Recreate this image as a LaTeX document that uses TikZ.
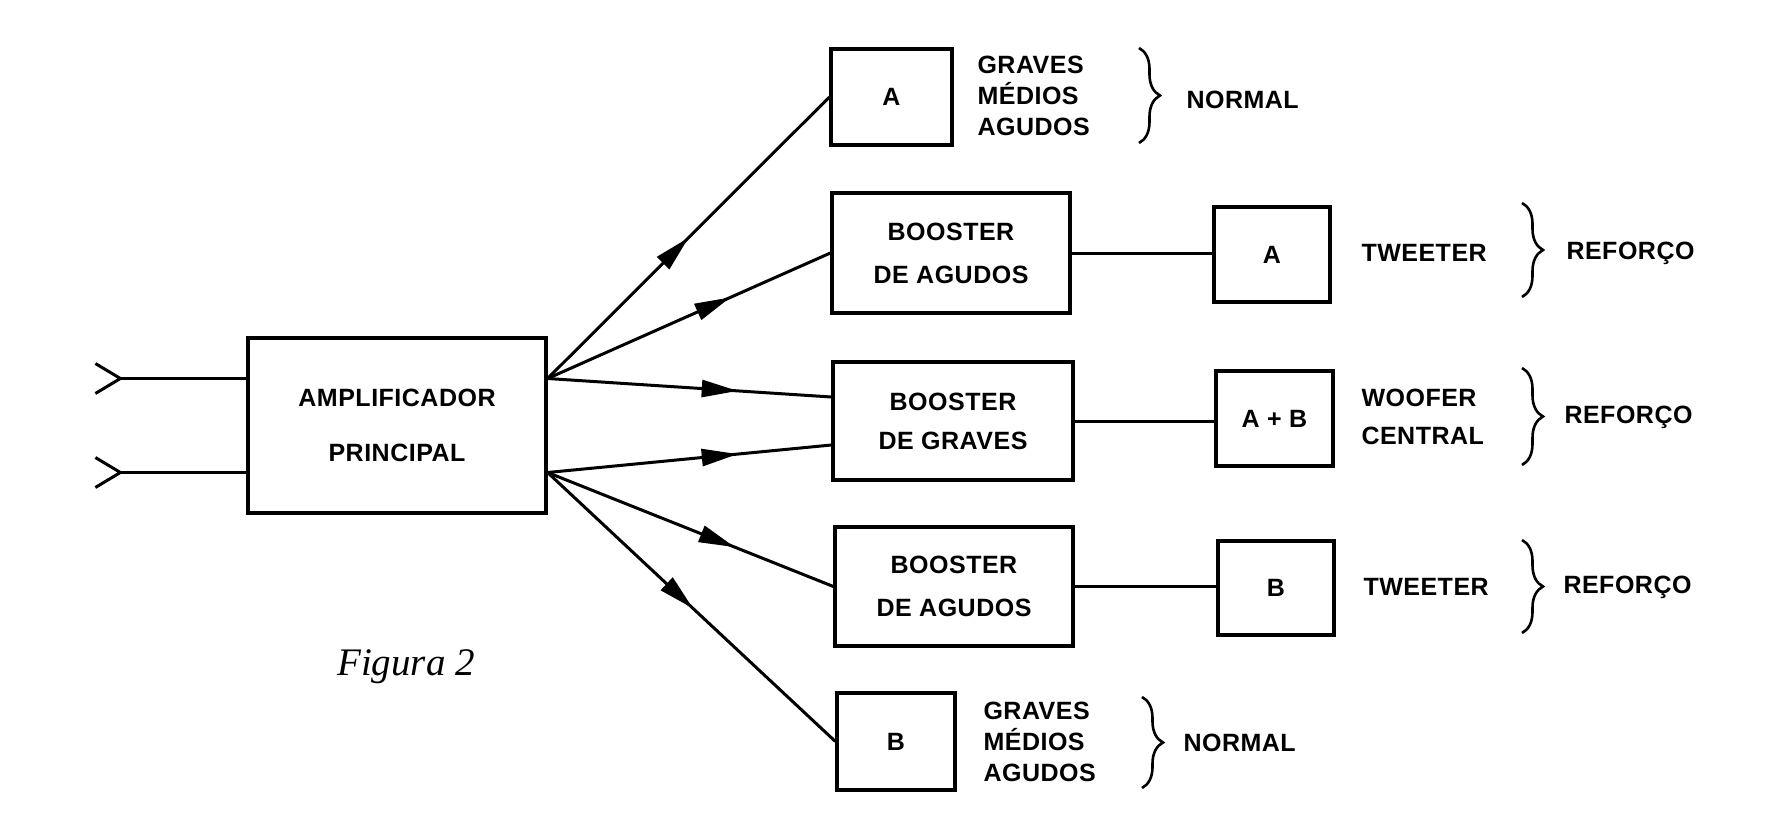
\documentclass[tikz,border=0pt]{standalone}
\usepackage{fontspec}
\setmainfont{Liberation Sans}
\newfontfamily\lettering[LetterSpace=2]{Liberation Sans}
\newfontfamily\legendfont{Liberation Serif}
\usepackage{tikz}
\usetikzlibrary{arrows.meta,decorations.markings,decorations.pathreplacing}

\begin{document}
\begin{tikzpicture}[
  x=1pt, y=-1pt,
  font=\lettering\bfseries\fontsize{25}{28}\selectfont,
  line width=3pt,
  unit/.style={draw, line width=3.2pt, inner sep=0pt, align=center},
  stage/.style={unit, minimum width=238pt, minimum height=119pt},
  spk/.style={unit, minimum width=117pt, minimum height=95pt},
  tag/.style={anchor=west, align=left, inner sep=0pt},
  feed/.style={postaction={decorate}, decoration={markings,
      mark=at position #1 with {\arrow{Triangle[length=36pt,width=17pt]}}}},
  bracket/.style={decorate, decoration={brace, amplitude=21pt}, line width=2.6pt}]

\useasboundingbox (0,0) rectangle (1792,840);

%% ---- amplificador e entradas ----
\node[unit, minimum width=298pt, minimum height=175pt] (amp) at (397,425.5)
  {AMPLIFICADOR\\[27pt]PRINCIPAL};
\coordinate (s1) at ([yshift=47pt]amp.east);
\coordinate (s2) at ([yshift=-47pt]amp.east);
\coordinate (in1) at ([xshift=-126pt, yshift=47pt]amp.west);
\coordinate (in2) at ([xshift=-126pt, yshift=-47pt]amp.west);

\draw (in1) -- (in1 -| amp.west);
\draw (in2) -- (in2 -| amp.west);
\draw ([shift={(-25pt,15pt)}]in1) -- (in1) -- ([shift={(-25pt,-15pt)}]in1);
\draw ([shift={(-25pt,15pt)}]in2) -- (in2) -- ([shift={(-25pt,-15pt)}]in2);

%% ---- coluna dos boosters e caixas ----
\node[spk, minimum width=121pt, minimum height=96pt] (normA) at (891.5,97) {A};
\node[stage, minimum height=120pt] (boostA) at (951,253) {BOOSTER\\[15pt]DE AGUDOS};
\node[stage, minimum width=240pt, minimum height=118pt] (boostG) at (953,421)
  {BOOSTER\\[11pt]DE GRAVES};
\node[stage] (boostB) at (954,586.5) {BOOSTER\\[15pt]DE AGUDOS};
\node[spk, minimum width=118pt, minimum height=97pt] (normB) at (896,741.5) {B};

\node[spk, minimum width=116pt] (twA) at (1272,254.5) {A};
\node[spk] (woof) at (1274.5,418.5) {A + B};
\node[spk, minimum width=116pt, minimum height=94pt] (twB) at (1276,588) {B};

%% ---- fluxo ----
\draw[feed=0.5]   (s1) -- (normA.west);
\draw[feed=0.647] (s1) -- (boostA.west);
\draw[feed=0.67]  (s1) -- ([yshift=24pt]boostG.west);
\draw[feed=0.67]  (s2) -- ([yshift=-24pt]boostG.west);
\draw[feed=0.655] (s2) -- (boostB.west);
\draw[feed=0.505] (s2) -- (normB.west);

\draw (boostA.east) -- (boostA.east -| twA.west);
\draw (boostG.east) -- (boostG.east -| woof.west);
\draw (boostB.east) -- (boostB.east -| twB.west);

%% ---- legendas e chaves ----
\node[tag] (lstA) at (976,96) {GRAVES\\[3pt]MÉDIOS\\[3pt]AGUDOS};
\draw[bracket] (1139,48) -- (1139,143);
\node[tag] (nA) at (1185,100) {NORMAL};

\node[tag] (lstB) at (982,742) {GRAVES\\[3pt]MÉDIOS\\[3pt]AGUDOS};
\draw[bracket] (1142,697) -- (1142,788);
\node[tag] (nB) at (1182,743) {NORMAL};

\node[tag] (tw1) at (1360,253) {TWEETER};
\draw[bracket] (1522,203) -- (1522,297);
\node[tag] (r1) at (1565,253) {REFORÇO};

\node[tag] (wc) at (1360,417) {WOOFER\\[10pt]CENTRAL};
\draw[bracket] (1522,368) -- (1522,465);
\node[tag] (r2) at (1563,417) {REFORÇO};

\node[tag] (tw2) at (1362,587) {TWEETER};
\draw[bracket] (1522,540) -- (1522,633);
\node[tag] (r3) at (1562,587) {REFORÇO};

\node[anchor=base, inner sep=0pt,
      font=\legendfont\itshape\fontsize{39}{44}\selectfont] (fig) at (406,675) {Figura 2};
\end{tikzpicture}
\end{document}
